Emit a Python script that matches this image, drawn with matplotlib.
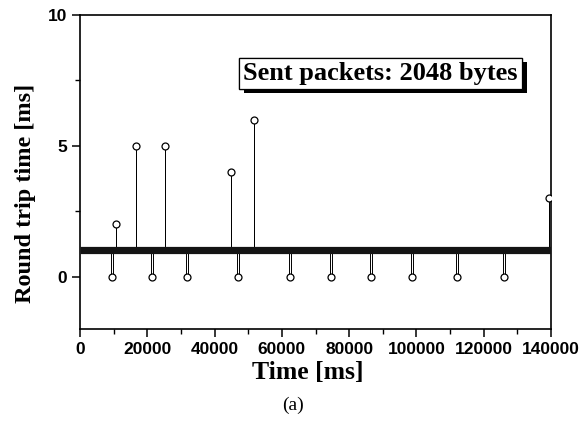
import matplotlib
matplotlib.use('Agg')
from matplotlib import pyplot as plt
from matplotlib import patheffects as pe

# baseline RTT (dense band of packets at ~1 ms)
base_t = [0, 140000]
base_rtt = [1.0, 1.0]

# lost / zero-RTT packets
drop_t = [9400, 21500, 31900, 47000, 62400, 74600, 86500, 98600, 112000, 126100]
drop_rtt = [0, 0, 0, 0, 0, 0, 0, 0, 0, 0]

# delayed packets
spike_t = [10600, 16550, 25300, 44800, 51600, 139400]
spike_rtt = [2, 5, 5, 4, 6, 3]

xticks = [0, 20000, 40000, 60000, 80000, 100000, 120000, 140000]
yticks = [0, 5, 10]


def main():
    fig = plt.figure(figsize=(5.82, 4.33), dpi=100)
    ax = fig.add_axes([0.1375, 0.2402, 0.8092, 0.7252])

    # events as stems leaving and returning to the baseline
    ev = sorted(list(zip(drop_t, drop_rtt)) + list(zip(spike_t, spike_rtt)))
    for t, v in ev:
        d = 330 if v < base_rtt[0] else 0
        ax.plot([t - d, t - d, t + d, t + d], [base_rtt[0], v, v, base_rtt[0]],
                c='black', lw=0.7, zorder=2)
    ax.plot(base_t, base_rtt, c='#141414', lw=5.2, solid_capstyle='butt', zorder=3)
    ax.plot(drop_t, drop_rtt, 'o', ms=5, mfc='white', mec='black', mew=0.9, zorder=4)
    ax.plot(spike_t, spike_rtt, 'o', ms=5, mfc='white', mec='black', mew=0.9, zorder=4)

    ax.set_xlim(0, 140000)
    ax.set_ylim(-2, 10)
    ax.set_xticks(xticks)
    ax.set_xticks(range(10000, 140000, 20000), minor=True)
    ax.set_yticks(yticks)
    ax.set_yticks([2.5, 7.5], minor=True)
    ax.tick_params(which='major', direction='out', length=6, width=1.1)
    ax.tick_params(which='minor', direction='out', length=3.5, width=1.0)
    for lab in ax.get_xticklabels() + ax.get_yticklabels():
        lab.set_fontfamily('Liberation Sans')
        lab.set_fontweight('bold')
        lab.set_fontsize(12.5)
    for s in ax.spines.values():
        s.set_linewidth(1.2)

    txt = ax.text(0.638, 0.815, 'Sent packets: 2048 bytes', transform=ax.transAxes,
                  ha='center', va='center', fontsize=19, fontweight='bold',
                  family='Liberation Serif',
                  bbox=dict(boxstyle='square,pad=0.15', fc='white', ec='black', lw=0.9))
    txt.get_bbox_patch().set_path_effects([
        pe.withSimplePatchShadow(offset=(3.5, -3.5), shadow_rgbFace='black', alpha=1.0),
        pe.Normal()])

    fig.text(0.043, 0.553, 'Round trip time [ms]', rotation=90, ha='center', va='center',
             fontsize=17.5, fontweight='bold', family='Liberation Serif')
    fig.text(0.529, 0.139, 'Time [ms]', ha='center', va='center',
             fontsize=18.5, fontweight='bold', family='Liberation Serif')
    fig.text(0.503, 0.063, '(a)', ha='center', va='center',
             fontsize=14, family='Liberation Serif')

    fig.savefig('out.png', dpi=100)


if __name__ == "__main__":
    main()
